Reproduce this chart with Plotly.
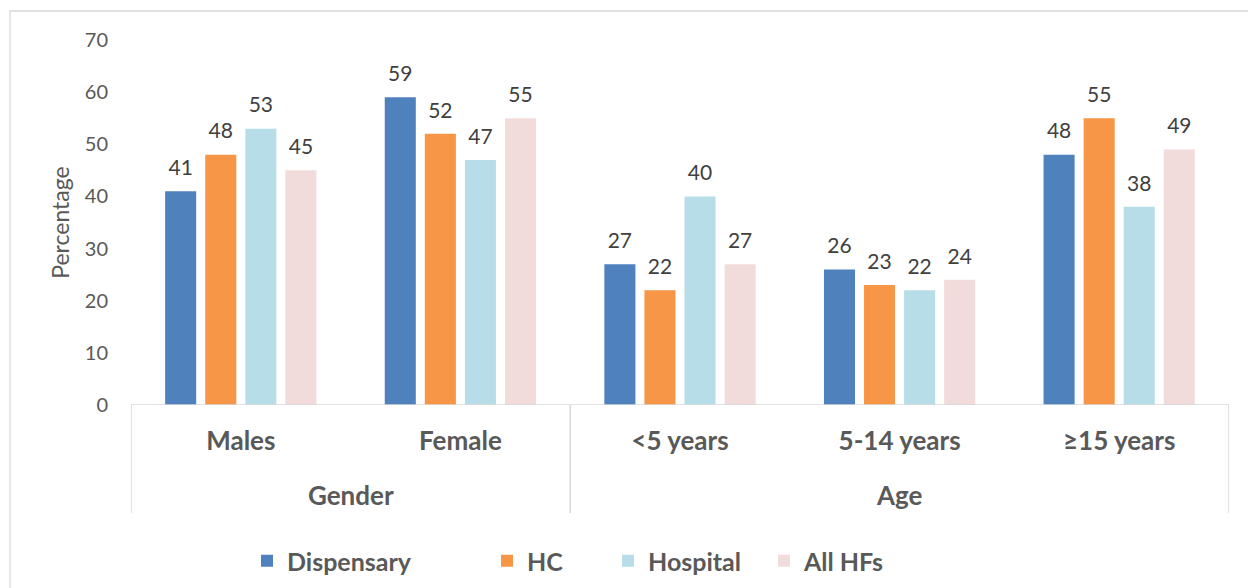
import plotly.graph_objects as go

categories = ["Males", "Female", "<5 years", "5-14 years", "≥15 years"]
groups = ["Gender", "Age"]
group_members = [2, 3]
series_names = ["Dispensary", "HC", "Hospital", "All HFs"]
dispensary = [41, 59, 27, 26, 48]
hc = [48, 52, 22, 23, 55]
hospital = [53, 47, 40, 22, 38]
all_hfs = [45, 55, 27, 24, 49]
y_ticks = [0, 10, 20, 30, 40, 50, 60, 70]

series_values = [dispensary, hc, hospital, all_hfs]
colors = ["#4F81BD", "#F79646", "#B7DEE8", "#F2DCDB"]
legend_ids = ["legend", "legend2", "legend3", "legend4"]
legend_x_px = [247, 487, 608, 764]

W, H = 1248, 588
L, R, T, B = 131, 19, 40, 183
pw = W - L - R
ph = H - T - B

def px_x(p):
    return (p - L) / pw

def px_y(p):
    return (H - B - p) / ph

FONT = "Lato"
fig = go.Figure()
xs = list(range(len(categories)))
for k, (name, vals, col, lid) in enumerate(zip(series_names, series_values, colors, legend_ids)):
    fig.add_trace(go.Bar(
        x=xs, y=vals, name=name, marker=dict(color=col, line=dict(width=0)),
        offsetgroup=str(k), legend=lid,
    ))
    # value labels, aligned with the bars via scattermode="group"
    fig.add_trace(go.Scatter(
        x=xs, y=vals, mode="markers+text", text=[str(v) for v in vals],
        textposition="top center", offsetgroup=str(k),
        marker=dict(size=16, opacity=0, color=col),
        textfont=dict(family=FONT, size=21, color="#404040"),
        showlegend=False, hoverinfo="skip", cliponaxis=False,
    ))

layout_legends = {}
for lid, lx in zip(legend_ids, legend_x_px):
    layout_legends[lid] = dict(
        x=px_x(lx), xanchor="left", y=px_y(561), yanchor="middle",
        orientation="h", bgcolor="rgba(0,0,0,0)",
        font=dict(family=FONT, size=25, color="#595959", weight="bold"),
        itemclick=False,
    )

fig.update_layout(
    width=W, height=H,
    margin=dict(l=L, r=R, t=T, b=B, pad=0, autoexpand=False),
    paper_bgcolor="white", plot_bgcolor="white",
    barmode="group", bargap=0.27, bargroupgap=0.225,
    scattermode="group", scattergap=0.27,
    showlegend=True,
    xaxis=dict(
        range=[-0.5, len(categories) - 0.5],
        tickmode="array", tickvals=xs, ticktext=categories,
        tickfont=dict(family=FONT, size=26, color="#595959", weight="bold"),
        showgrid=False, zeroline=False, showline=False, ticks="",
        ticklabelstandoff=18, fixedrange=True, automargin=False,
    ),
    yaxis=dict(
        range=[0, 70], tickmode="array", tickvals=y_ticks,
        tickfont=dict(family=FONT, size=20, color="#595959"),
        showgrid=False, zeroline=False, showline=False, ticks="",
        ticklabelstandoff=22, automargin=False,
        title=dict(text="Percentage", font=dict(family=FONT, size=23, color="#595959"), standoff=8),
        fixedrange=True,
    ),
    **layout_legends,
)

shapes = []
# chart border
shapes.append(dict(type="rect", xref="paper", yref="paper",
                   x0=px_x(10), x1=px_x(1260), y0=px_y(620), y1=px_y(11),
                   line=dict(color="#D9D9D9", width=1.3), layer="below"))
# baseline
shapes.append(dict(type="line", xref="x", yref="y", x0=-0.5, x1=len(categories) - 0.5,
                   y0=0, y1=0, line=dict(color="#D9D9D9", width=1.5)))
# group dividers
bounds = [-0.5]
for n in group_members:
    bounds.append(bounds[-1] + n)
for b in bounds:
    shapes.append(dict(type="line", xref="x", yref="paper", x0=b, x1=b,
                       y0=0, y1=px_y(513), line=dict(color="#D9D9D9", width=1.5)))
fig.update_layout(shapes=shapes)

for i, g in enumerate(groups):
    center = (bounds[i] + bounds[i + 1]) / 2
    fig.add_annotation(x=center, xref="x", y=px_y(495), yref="paper",
                       text=g, showarrow=False, yanchor="middle",
                       font=dict(family=FONT, size=26, color="#595959", weight="bold"))

fig.write_html("out.html")
